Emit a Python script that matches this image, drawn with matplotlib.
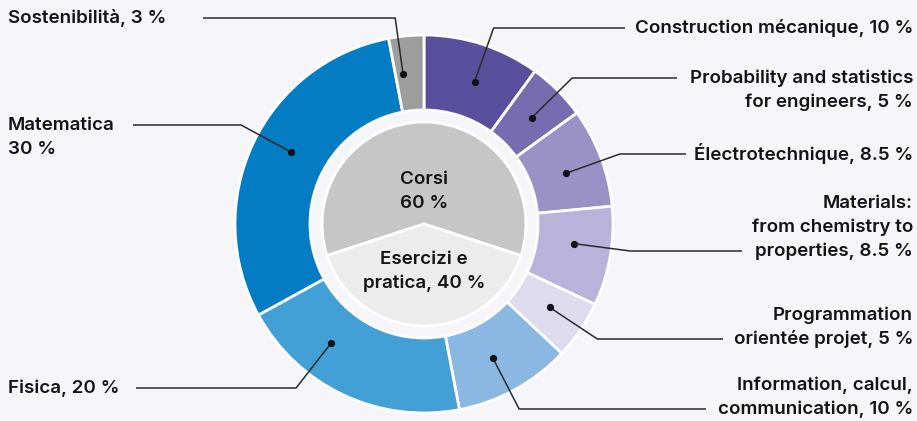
import matplotlib
matplotlib.use("Agg")
import matplotlib.pyplot as plt
import numpy as np

# ---------------- data ----------------
ring_labels = [
    "Construction mécanique, 10 %",
    "Probability and statistics\nfor engineers, 5 %",
    "Électrotechnique, 8.5 %",
    "Materials:\nfrom chemistry to\nproperties, 8.5 %",
    "Programmation\norientée projet, 5 %",
    "Information, calcul,\ncommunication, 10 %",
    "Fisica, 20 %",
    "Matematica\n30 %",
    "Sostenibilità, 3 %",
]
ring_values = [10, 5, 8.5, 8.5, 5, 10, 20, 30, 3]
ring_colors = ["#5a4f9c", "#776cb0", "#9a91c7", "#b9b3dc", "#dedbef",
               "#8ab8e3", "#42a0d7", "#047cc3", "#9d9d9d"]

inner_labels = ["Corsi\n60 %", "Esercizi e\npratica, 40 %"]
inner_values = [60, 40]
inner_colors = ["#c6c6c6", "#ececec"]

# ---------------- layout (pixels, y measured from top) ----------------
W, H = 917, 421
CX, CY = 424, 224
R_OUT, R_IN, R_PIE = 189, 114, 102
R_DOT, R_ELBOW = 151, 208
ROW = 24

label_side = ["R", "R", "R", "R", "R", "R", "L", "L", "L"]
label_y0 = [28, 78, 154, 203, 315, 385, 388, 125, 18]
label_anchor_row = [0, 0, 0, 2, 1, 1, 0, 0, 0]
line_end_x = [625, 677, 686, 742, 723, 706, 136, 133, 203]

BG = "#f6f6fa"
TXT = "#141414"
LINE = "#2b2b2b"

plt.rcParams["font.family"] = ["Inter", "DejaVu Sans"]
FS = 13.5
FW = 600

fig = plt.figure(figsize=(W / 100, H / 100), dpi=100)
fig.patch.set_facecolor(BG)
ax = fig.add_axes([0, 0, 1, 1])
ax.set_facecolor(BG)

def Y(y):
    return H - y

ax.pie(ring_values, colors=ring_colors, startangle=90, counterclock=False,
       radius=R_OUT, center=(CX, Y(CY)), frame=True,
       wedgeprops=dict(width=R_OUT - R_IN, edgecolor="white", linewidth=2))

start_inner = 90 - inner_values[0] / sum(inner_values) * 360 / 2
ax.pie(inner_values, colors=inner_colors, startangle=start_inner,
       radius=R_PIE, center=(CX, Y(CY)), frame=True,
       wedgeprops=dict(edgecolor="white", linewidth=2))

ax.set_xlim(0, W)
ax.set_ylim(0, H)
ax.set_aspect("equal")
ax.axis("off")

inner_row_y = [[180, 203], [260, 283]]
for lab, ys in zip(inner_labels, inner_row_y):
    for row, yy in zip(lab.split("\n"), ys):
        ax.text(CX, Y(yy), row, ha="center", va="center", fontsize=FS,
                fontweight=FW, color=TXT)

for lab, side, y0, arow, xend in zip(ring_labels, label_side, label_y0,
                                      label_anchor_row, line_end_x):
    rows = lab.split("\n")
    for i, row in enumerate(rows):
        if side == "R":
            ax.text(913, Y(y0 + i * ROW), row, ha="right", va="center",
                    fontsize=FS, fontweight=FW, color=TXT)
        else:
            ax.text(8, Y(y0 + i * ROW), row, ha="left", va="center",
                    fontsize=FS, fontweight=FW, color=TXT)
    ey = y0 + arow * ROW
    dy = ey - CY
    dx = np.sqrt(max(R_ELBOW ** 2 - dy ** 2, 0))
    ex = CX + dx if side == "R" else CX - dx
    px = CX + (ex - CX) * R_DOT / R_ELBOW
    py = CY + dy * R_DOT / R_ELBOW
    ax.plot([px, ex, xend], [Y(py), Y(ey), Y(ey)], color=LINE, lw=1.1,
            solid_capstyle="butt", zorder=5)
    ax.plot([px], [Y(py)], "o", color="#111111", ms=4.2, zorder=6)

fig.savefig("out.png", dpi=100, facecolor=BG)
